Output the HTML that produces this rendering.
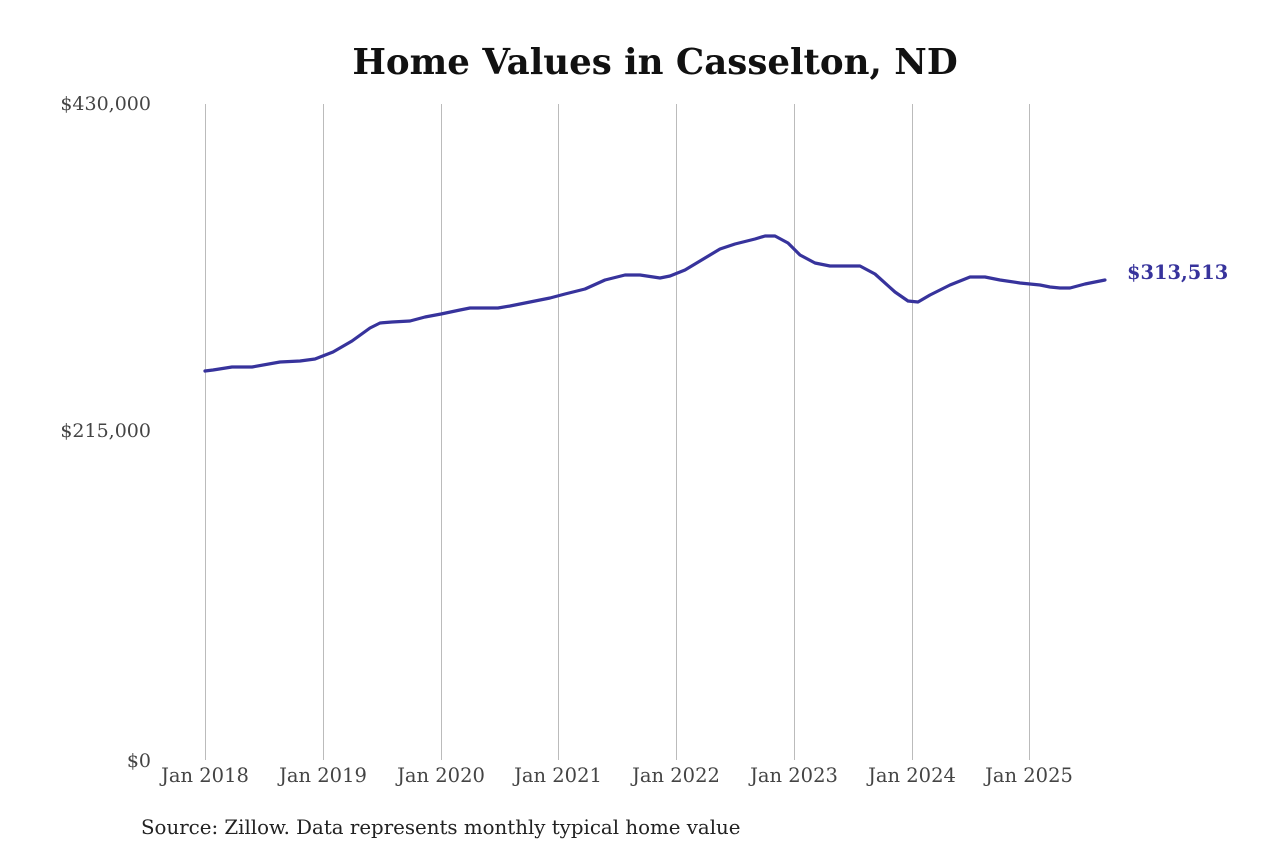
<!DOCTYPE html>
<html><head><meta charset="utf-8"><style>
html,body{margin:0;padding:0;background:#fff;}
svg{display:block;}
</style></head><body>
<svg width="1280" height="853" xmlns="http://www.w3.org/2000/svg" font-family="'DejaVu Serif','Liberation Serif',serif">
<text x="655" y="74" text-anchor="middle" font-size="35.6" font-weight="bold" fill="#111">Home Values in Casselton, ND</text>
<g stroke="#bbb" stroke-width="1">
<line x1="205.5" y1="104" x2="205.5" y2="760"/>
<line x1="323.5" y1="104" x2="323.5" y2="760"/>
<line x1="441.5" y1="104" x2="441.5" y2="760"/>
<line x1="558.5" y1="104" x2="558.5" y2="760"/>
<line x1="676.5" y1="104" x2="676.5" y2="760"/>
<line x1="794.5" y1="104" x2="794.5" y2="760"/>
<line x1="912.5" y1="104" x2="912.5" y2="760"/>
<line x1="1029.5" y1="104" x2="1029.5" y2="760"/>
</g>
<g font-size="19" fill="#444" text-anchor="end">
<text x="151" y="110">$430,000</text>
<text x="151" y="437">$215,000</text>
<text x="151" y="767">$0</text>
</g>
<g font-size="19.5" fill="#444" text-anchor="middle">
<text x="205" y="782">Jan 2018</text>
<text x="323" y="782">Jan 2019</text>
<text x="441" y="782">Jan 2020</text>
<text x="558" y="782">Jan 2021</text>
<text x="676" y="782">Jan 2022</text>
<text x="794" y="782">Jan 2023</text>
<text x="912" y="782">Jan 2024</text>
<text x="1029" y="782">Jan 2025</text>
</g>
<polyline fill="none" stroke="#37339c" stroke-width="3.2" stroke-linejoin="round" stroke-linecap="round" points="205,371 213,370 232,367 252,367 280,362 300,361 315,359 333,352 352,341 370,328 380,323 392,322 410,321 425,317 441,314 460,310 470,308 498,308 510,306 530,302 550,298 565,294 585,289 605,280 625,275 640,275 660,278 670,276 685,270 700,261 720,249 735,244 755,239 765,236 775,236 788,243 800,255 815,263 830,266 845,266 860,266 875,274 895,292 908,301 918,302 930,295 950,285 970,277 985,277 1000,280 1020,283 1040,285 1050,287 1060,288 1070,288 1085,284 1105,280"/>
<text x="1127" y="279" font-size="19.4" font-weight="bold" fill="#37339c">$313,513</text>
<text x="141" y="834" font-size="19.8" fill="#222">Source: Zillow. Data represents monthly typical home value</text>
</svg>
</body></html>
